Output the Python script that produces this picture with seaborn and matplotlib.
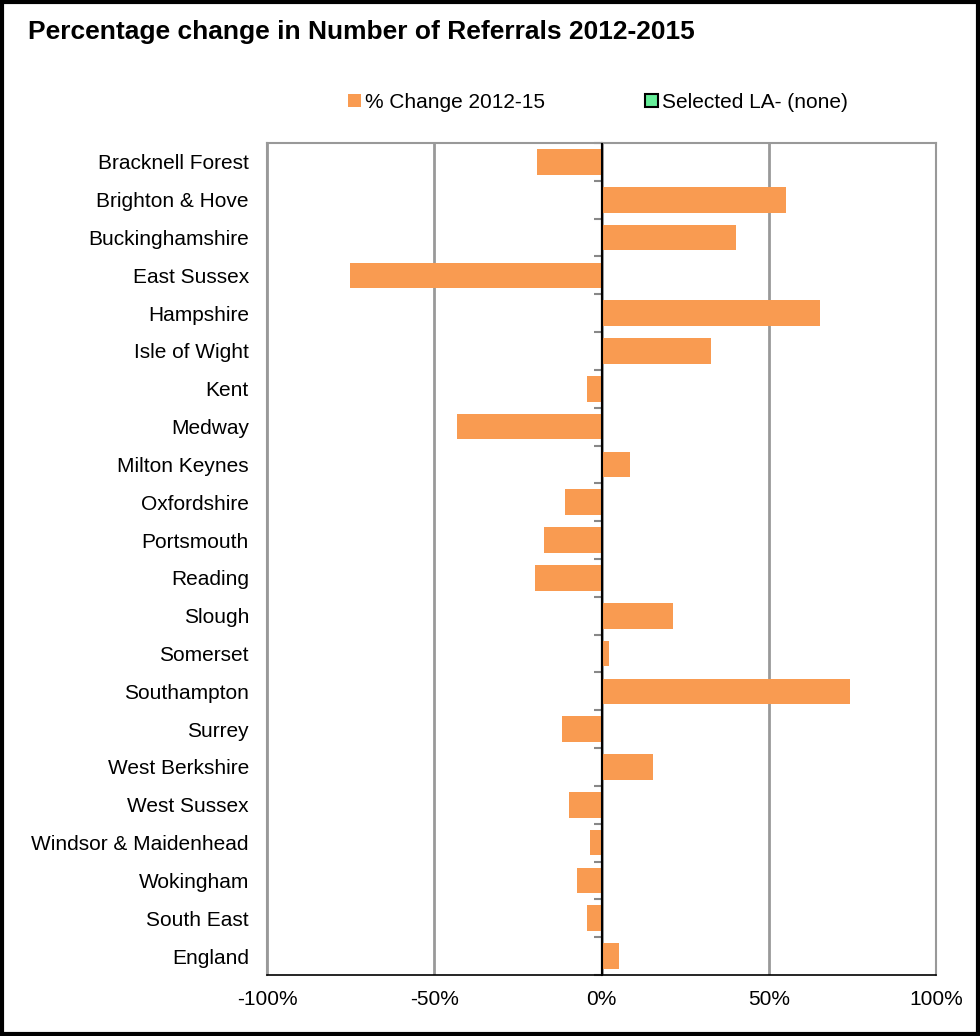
import matplotlib
matplotlib.use("Agg")
import matplotlib.pyplot as plt
import seaborn as sns
import pandas as pd
import numpy as np
from matplotlib.patches import Patch, Rectangle
from matplotlib.ticker import FixedLocator, PercentFormatter

areas = ["Bracknell Forest", "Brighton & Hove", "Buckinghamshire", "East Sussex",
         "Hampshire", "Isle of Wight", "Kent", "Medway", "Milton Keynes",
         "Oxfordshire", "Portsmouth", "Reading", "Slough", "Somerset",
         "Southampton", "Surrey", "West Berkshire", "West Sussex",
         "Windsor & Maidenhead", "Wokingham", "South East", "England"]
pct_change = [-19.4, 55.3, 40.1, -75.3, 65.2, 32.6, -4.2, -43.3, 8.4, -10.8,
              -17.3, -20.0, 21.5, 2.1, 74.4, -11.7, 15.5, -9.6, -3.3, -7.2,
              -4.2, 5.1]
x_ticks = [-100, -50, 0, 50, 100]

sns.set_theme(style="white")
plt.rcParams['font.family'] = ['Liberation Sans', 'DejaVu Sans']
plt.rcParams['axes.unicode_minus'] = False
plt.rcParams['text.color'] = 'black'
plt.rcParams['axes.labelcolor'] = 'black'
plt.rcParams['xtick.color'] = 'black'
plt.rcParams['ytick.color'] = 'black'

df = pd.DataFrame({"area": areas, "pct": pct_change})

fig = plt.figure(figsize=(9.8, 10.36), dpi=100)
ax = fig.add_axes([267/980, 1-975/1036, (936-267)/980, (975-143)/1036])

bar_color = "#F99B51"
sns.barplot(data=df, y="area", x="pct", orient="h", color=bar_color,
            width=0.68, ax=ax, saturation=1, edgecolor="none")

ax.set_xlim(-100, 100)
ax.set_ylim(len(areas) - 0.5, -0.5)
ax.xaxis.set_major_locator(FixedLocator(x_ticks))
ax.xaxis.set_major_formatter(PercentFormatter(decimals=0))
ax.grid(axis="x", color="#999999", linewidth=2)
ax.set_axisbelow(True)
ax.set_xlabel("")
ax.set_ylabel("")
ax.tick_params(axis="y", length=0, labelsize=15, pad=13, labelcolor="black")
ax.tick_params(axis="x", length=5, width=1, colors="#999999", labelcolor="black",
               labelsize=15, direction="out", pad=6)
for side in ["left", "right", "top"]:
    ax.spines[side].set_color("#999999")
    ax.spines[side].set_linewidth(1.5)
ax.spines["bottom"].set_color("black")
ax.spines["bottom"].set_linewidth(1.2)

# zero axis line with category boundary ticks
ax.axvline(0, color="black", linewidth=1.5, zorder=3)
sec = ax.secondary_yaxis(0.5)
for s in sec.spines.values():
    s.set_color("black")
    s.set_linewidth(1.5)
sec.set_yticks(np.arange(-0.5, len(areas) - 0.4, 1.0))
sec.set_yticklabels([])
sec.tick_params(axis="y", length=6, width=1.5, colors="#888888", direction="in")

# legend
handles = [Patch(facecolor=bar_color, edgecolor="none", label="% Change 2012-15"),
           Patch(facecolor="#66EE99", edgecolor="black", linewidth=1.5,
                 label="Selected LA- (none)")]
fig.legend(handles=handles, loc="center", bbox_to_anchor=(598/980, 1-102/1036),
           ncol=2, frameon=False, fontsize=15, handlelength=0.6, handleheight=0.6,
           handletextpad=0.2, columnspacing=4.8, labelcolor="black")

fig.text(28/980, 1-32/1036, "Percentage change in Number of Referrals 2012-2015",
         fontsize=19, fontweight="bold", va="center", ha="left", color="black")

fig.patches.append(Rectangle((0.002, 0.002), 0.996, 0.996, transform=fig.transFigure,
                             fill=False, edgecolor="black", linewidth=3))

fig.savefig("out.png", dpi=100)
